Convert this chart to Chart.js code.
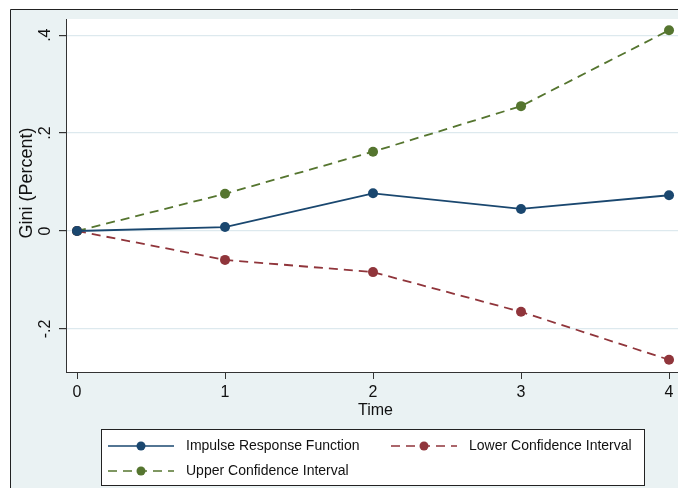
<!DOCTYPE html>
<html>
<head>
<meta charset="utf-8">
<script src="https://cdn.jsdelivr.net/npm/chart.js@4"></script>
<style>
  html, body { margin: 0; padding: 0; background: #ffffff; overflow: hidden; }
  #wrap { position: relative; width: 678px; height: 488px; overflow: hidden; }
  #irfChart { position: absolute; left: 0; top: 0; }
</style>
</head>
<body>
<div id="wrap"><canvas id="irfChart" width="690" height="488"></canvas></div>
<script>
// 数据
const periods = [0, 1, 2, 3, 4];
const irfValues = [0, 0.008, 0.077, 0.045, 0.073];
const lowerValues = [0, -0.059, -0.084, -0.165, -0.263];
const upperValues = [0, 0.076, 0.162, 0.255, 0.41];
const yTickValues = [-0.2, 0, 0.2, 0.4];
const xTickValues = [0, 1, 2, 3, 4];
const seriesNames = ['Impulse Response Function', 'Lower Confidence Interval', 'Upper Confidence Interval'];

const navy = '#1a476f';
const maroon = '#90353b';
const green = '#55752f';
const panelBg = '#eaf2f3';
const gridColor = '#dde9ee';
const axisColor = '#333333';

function toPoints(values) {
    return periods.map((p, i) => ({ x: p, y: values[i] }));
}

function fmtTick(v) {
    if (Math.abs(v) < 1e-9) return '0';
    const s = (Math.round(v * 10) / 10).toString();
    return s.replace('0.', '.');
}

// 背景和外框
const backgroundPlugin = {
    id: 'stataBackground',
    beforeDraw(chart) {
        const ctx = chart.ctx;
        const area = chart.chartArea;
        ctx.save();
        ctx.fillStyle = '#ffffff';
        ctx.fillRect(0, 0, chart.width, chart.height);
        ctx.fillStyle = panelBg;
        ctx.fillRect(10, 9, chart.width - 10, chart.height - 9);
        ctx.strokeStyle = '#222222';
        ctx.lineWidth = 1;
        ctx.beginPath();
        ctx.moveTo(10.5, chart.height);
        ctx.lineTo(10.5, 9.5);
        ctx.lineTo(chart.width, 9.5);
        ctx.stroke();
        ctx.fillStyle = '#ffffff';
        ctx.fillRect(area.left, area.top, chart.width - area.left, area.bottom - area.top);
        ctx.restore();
    }
};

// 图例
const legendPlugin = {
    id: 'stataLegend',
    afterDraw(chart) {
        const ctx = chart.ctx;
        ctx.save();
        ctx.fillStyle = '#ffffff';
        ctx.fillRect(101, 429, 543, 56);
        ctx.strokeStyle = '#222222';
        ctx.lineWidth = 1;
        ctx.strokeRect(101.5, 429.5, 543, 56);

        const items = [
            { name: seriesNames[0], color: navy, dash: [], x: 108, y: 446 },
            { name: seriesNames[1], color: maroon, dash: [9, 6], x: 391, y: 446 },
            { name: seriesNames[2], color: green, dash: [9, 6], x: 108, y: 471 }
        ];
        items.forEach(it => {
            ctx.strokeStyle = it.color;
            ctx.lineWidth = 1.6;
            ctx.setLineDash(it.dash);
            ctx.beginPath();
            ctx.moveTo(it.x, it.y);
            ctx.lineTo(it.x + 66, it.y);
            ctx.stroke();
            ctx.setLineDash([]);
            ctx.fillStyle = it.color;
            ctx.beginPath();
            ctx.arc(it.x + 33, it.y, 4.5, 0, Math.PI * 2);
            ctx.fill();
            ctx.fillStyle = '#111111';
            ctx.font = '14px "Liberation Sans", Arial, sans-serif';
            ctx.textBaseline = 'middle';
            ctx.textAlign = 'left';
            ctx.fillText(it.name, it.x + 78, it.y);
        });
        ctx.restore();
    }
};

function makeDataset(label, values, color, dash) {
    return {
        label: label,
        data: toPoints(values),
        borderColor: color,
        backgroundColor: color,
        pointBackgroundColor: color,
        pointBorderColor: color,
        pointRadius: 5,
        pointBorderWidth: 0,
        borderWidth: 1.8,
        borderDash: dash,
        fill: false,
        tension: 0
    };
}

const ctx = document.getElementById('irfChart').getContext('2d');

new Chart(ctx, {
    type: 'line',
    data: {
        datasets: [
            makeDataset(seriesNames[0], irfValues, navy, []),
            makeDataset(seriesNames[1], lowerValues, maroon, [9, 6]),
            makeDataset(seriesNames[2], upperValues, green, [9, 6])
        ]
    },
    options: {
        responsive: false,
        animation: false,
        layout: {
            padding: { left: 10, top: 19, right: 0, bottom: 64 }
        },
        plugins: {
            legend: { display: false },
            tooltip: { enabled: false },
            title: { display: false }
        },
        scales: {
            x: {
                type: 'linear',
                min: -0.0745,
                max: 4.108,
                afterBuildTicks: function(scale) {
                    scale.ticks = xTickValues.map(v => ({ value: v }));
                },
                afterFit: function(scale) {
                    scale.height = 52;
                },
                grid: {
                    drawOnChartArea: false,
                    color: axisColor,
                    tickColor: axisColor,
                    tickLength: 7
                },
                border: { color: axisColor, width: 1 },
                ticks: {
                    color: '#111111',
                    padding: 4,
                    maxRotation: 0,
                    font: { family: '"Liberation Sans", Arial, sans-serif', size: 16 },
                    callback: function(value) { return value.toString(); }
                },
                title: {
                    display: true,
                    text: 'Time',
                    color: '#111111',
                    padding: { top: 0, bottom: 4 },
                    font: { family: '"Liberation Sans", Arial, sans-serif', size: 16 }
                }
            },
            y: {
                type: 'linear',
                min: -0.288,
                max: 0.433,
                afterBuildTicks: function(scale) {
                    scale.ticks = yTickValues.map(v => ({ value: v }));
                },
                afterFit: function(scale) {
                    scale.width = 56;
                },
                grid: {
                    color: gridColor,
                    lineWidth: 1.2,
                    tickColor: axisColor,
                    tickLength: 7
                },
                border: { color: axisColor, width: 1 },
                ticks: {
                    color: '#111111',
                    minRotation: 90,
                    maxRotation: 90,
                    crossAlign: 'center',
                    padding: 4,
                    font: { family: '"Liberation Sans", Arial, sans-serif', size: 16 },
                    callback: function(value) { return fmtTick(value); }
                },
                title: {
                    display: true,
                    // 前置空格让标题整体上移
                    text: '\u00a0\u00a0\u00a0\u00a0\u00a0Gini (Percent)',
                    color: '#111111',
                    padding: { top: 6, bottom: 0 },
                    font: { family: '"Liberation Sans", Arial, sans-serif', size: 18 }
                }
            }
        }
    },
    plugins: [backgroundPlugin, legendPlugin]
});
</script>
</body>
</html>
